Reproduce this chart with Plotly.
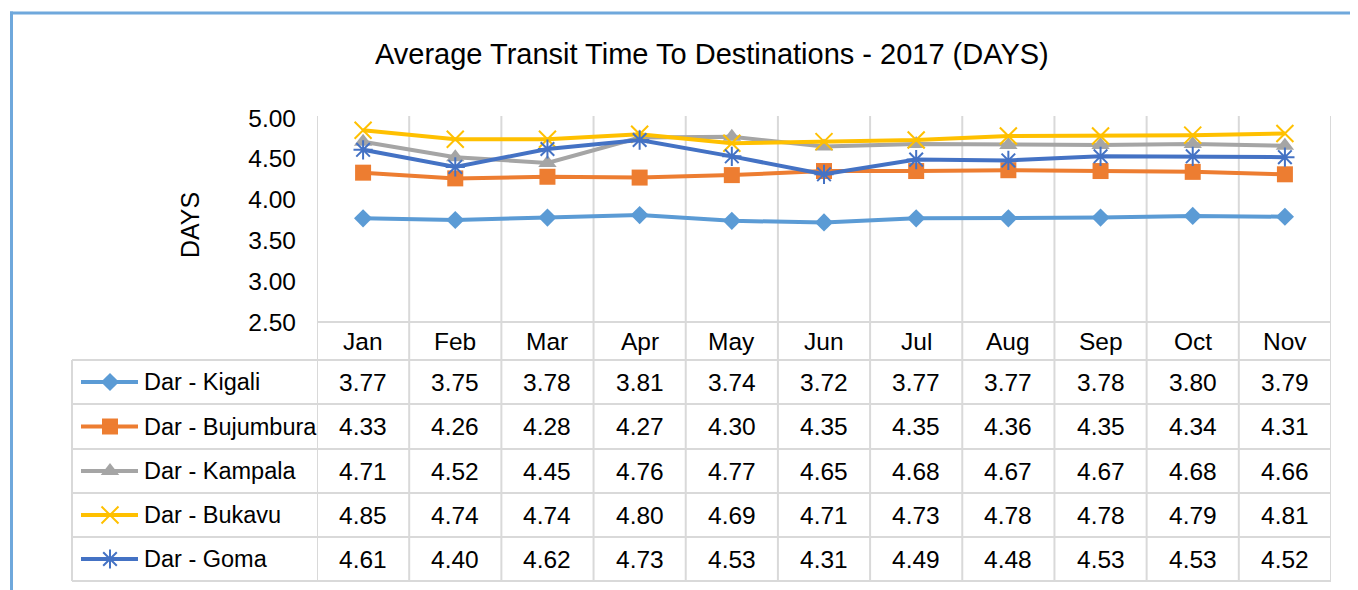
import plotly.graph_objects as go

W, H = 1358, 590

months = ["Jan", "Feb", "Mar", "Apr", "May", "Jun", "Jul", "Aug", "Sep", "Oct", "Nov"]
routes = ["Dar - Kigali", "Dar - Bujumbura", "Dar - Kampala", "Dar - Bukavu", "Dar - Goma"]
kigali = [3.77, 3.75, 3.78, 3.81, 3.74, 3.72, 3.77, 3.77, 3.78, 3.80, 3.79]
bujumbura = [4.33, 4.26, 4.28, 4.27, 4.30, 4.35, 4.35, 4.36, 4.35, 4.34, 4.31]
kampala = [4.71, 4.52, 4.45, 4.76, 4.77, 4.65, 4.68, 4.67, 4.67, 4.68, 4.66]
bukavu = [4.85, 4.74, 4.74, 4.80, 4.69, 4.71, 4.73, 4.78, 4.78, 4.79, 4.81]
goma = [4.61, 4.40, 4.62, 4.73, 4.53, 4.31, 4.49, 4.48, 4.53, 4.53, 4.52]
y_ticks = [2.5, 3.0, 3.5, 4.0, 4.5, 5.0]

series = [kigali, bujumbura, kampala, bukavu, goma]
colors = ["#5B9BD5", "#ED7D31", "#A5A5A5", "#FFC000", "#4472C4"]
symbols = ["diamond", "square", "triangle-up", "x-thin", "asterisk"]
msizes = [14, 16, 16, 17, 16]

FONT = "Liberation Sans, Arial, sans-serif"
GRID = "#D9D9D9"

# the page body adds an 8px margin; pixel positions below are page pixels
OFF = 8


def X(px):
    return (px - OFF) / W


def Y(py):
    return 1 - (py - OFF) / H


# plot area in page pixels
PL, PR, PT, PB = 317, 1331, 118, 322
header_c = 341
row_lines = [360, 404, 449, 493, 537, 581]
row_centers = [(row_lines[i] + row_lines[i + 1]) / 2 for i in range(5)]

fig = go.Figure()
xs = list(range(len(months)))

for name, vals, c, s, ms in zip(routes, series, colors, symbols, msizes):
    line_only = s in ("x-thin", "asterisk")
    fig.add_trace(go.Scatter(
        x=xs, y=vals, mode="lines+markers", name=name,
        line=dict(color=c, width=4),
        marker=dict(symbol=s, size=ms, color=c,
                    line=dict(color=c, width=2 if line_only else 0)),
        showlegend=False, cliponaxis=False,
    ))

# legend key markers (in the table's first column), on a full-page pixel axis
for i, (c, s, ms) in enumerate(zip(colors, symbols, msizes)):
    line_only = s in ("x-thin", "asterisk")
    fig.add_trace(go.Scatter(
        x=[110 - OFF], y=[row_centers[i] - OFF], mode="markers", xaxis="x2", yaxis="y2",
        marker=dict(symbol=s, size=ms, color=c,
                    line=dict(color=c, width=2 if line_only else 0)),
        showlegend=False, hoverinfo="skip",
    ))

shapes = []
# frame
shapes.append(dict(type="line", xref="paper", yref="paper", x0=X(11.5), x1=X(11.5),
                   y0=Y(11.5), y1=Y(598), line=dict(color="#6FA8DC", width=3)))
shapes.append(dict(type="line", xref="paper", yref="paper", x0=X(10), x1=X(1366),
                   y0=Y(13), y1=Y(13), line=dict(color="#6FA8DC", width=3)))
# vertical grid / table column lines
for i in range(len(months) + 1):
    shapes.append(dict(type="line", xref="x", yref="paper", x0=i - 0.5, x1=i - 0.5,
                       y0=Y(116), y1=Y(582), line=dict(color=GRID, width=2), layer="below"))
# top of header row
shapes.append(dict(type="line", xref="x", yref="paper", x0=-0.5, x1=len(months) - 0.5,
                   y0=Y(PB), y1=Y(PB), line=dict(color=GRID, width=2), layer="below"))
# table rows
for r in row_lines:
    shapes.append(dict(type="line", xref="paper", yref="paper", x0=X(72), x1=X(PR),
                       y0=Y(r), y1=Y(r), line=dict(color=GRID, width=2), layer="below"))
shapes.append(dict(type="line", xref="paper", yref="paper", x0=X(72), x1=X(72),
                   y0=Y(row_lines[0]), y1=Y(row_lines[-1]), line=dict(color=GRID, width=2),
                   layer="below"))
# legend key lines
for i, c in enumerate(colors):
    shapes.append(dict(type="line", xref="paper", yref="paper", x0=X(81), x1=X(138),
                       y0=Y(row_centers[i]), y1=Y(row_centers[i]),
                       line=dict(color=c, width=4)))

ann_base = dict(showarrow=False, xanchor="center", yanchor="middle")
annotations = []
annotations.append(dict(text="Average Transit Time To Destinations - 2017 (DAYS)",
                        xref="paper", yref="paper", x=X(712), y=Y(54), **ann_base,
                        font=dict(size=29, color="#000", family=FONT)))
annotations.append(dict(text="DAYS", xref="paper", yref="paper", x=X(190), y=Y(225),
                        textangle=-90, **ann_base,
                        font=dict(size=25, color="#000", family=FONT)))
for i, m in enumerate(months):
    annotations.append(dict(text=m, xref="x", yref="paper", x=i, y=Y(header_c),
                            **ann_base, font=dict(size=24.5, color="#000", family=FONT)))
for r, (name, vals) in enumerate(zip(routes, series)):
    annotations.append(dict(text=name, xref="paper", yref="paper", x=X(142),
                            y=Y(row_centers[r]), xanchor="left", yanchor="middle",
                            showarrow=False,
                            font=dict(size=23.5, color="#000", family=FONT)))
    for i, v in enumerate(vals):
        annotations.append(dict(text=f"{v:.2f}", xref="x", yref="paper", x=i,
                                y=Y(row_centers[r]), **ann_base,
                                font=dict(size=24.5, color="#000", family=FONT)))

fig.update_layout(
    template="none",
    width=W, height=H, autosize=False,
    margin=dict(l=0, r=0, t=0, b=0, pad=0),
    paper_bgcolor="white", plot_bgcolor="rgba(0,0,0,0)",
    showlegend=False,
    xaxis=dict(domain=[X(PL), X(PR)], range=[-0.5, len(months) - 0.5],
               showgrid=False, zeroline=False, showticklabels=False, showline=False,
               ticks="", automargin=False, fixedrange=True),
    yaxis=dict(domain=[Y(PB), Y(PT)], range=[2.5, 5.0], tickvals=y_ticks,
               tickformat=".2f", showgrid=False, zeroline=False, showline=False,
               ticks="", ticklabelstandoff=20, automargin=False,
               tickfont=dict(size=24.5, color="#000", family=FONT), fixedrange=True),
    xaxis2=dict(domain=[0, 1], range=[0, W], visible=False, anchor="y2",
                automargin=False, fixedrange=True),
    yaxis2=dict(domain=[0, 1], range=[H, 0], visible=False, anchor="x2",
                automargin=False, fixedrange=True),
    shapes=shapes,
    annotations=annotations,
)

fig.write_html("out.html")
